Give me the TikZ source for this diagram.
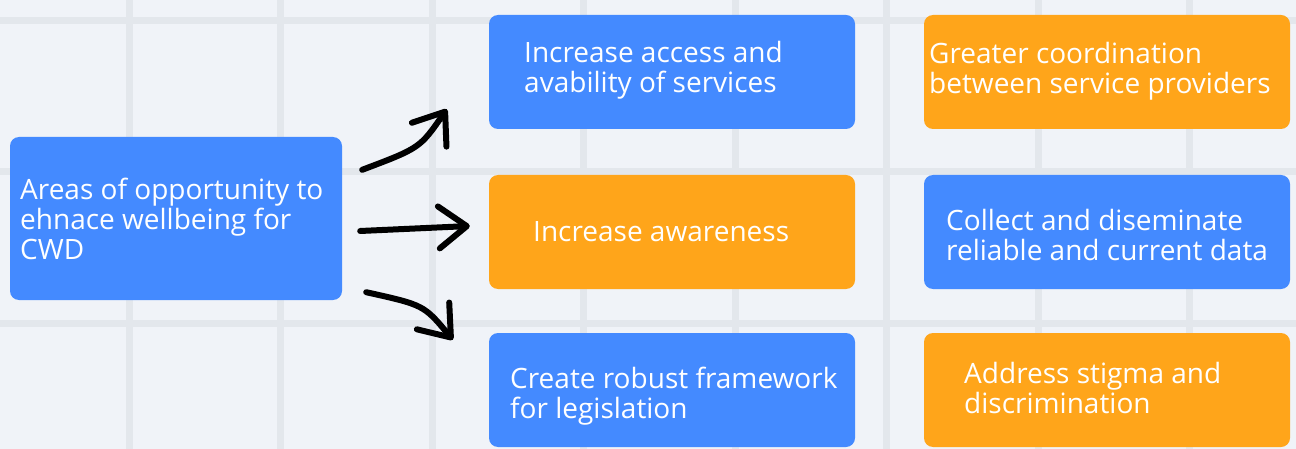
\documentclass[tikz,border=0pt]{standalone}
\usepackage{fontspec}
\setmainfont{Open Sans}
\usetikzlibrary{arrows.meta,positioning}

\definecolor{bgcol}{RGB}{240,243,248}
\definecolor{gridcol}{RGB}{227,231,236}
\definecolor{cardblue}{RGB}{68,138,255}
\definecolor{cardorange}{RGB}{255,165,26}

\tikzset{
  card/.style={rounded corners=9pt, inner sep=0pt, minimum width=366pt, minimum height=114pt},
  bluecard/.style={card, fill=cardblue},
  orangecard/.style={card, fill=cardorange},
  cardtext/.style={text=white, align=left, inner sep=0pt, anchor=base west,
    font=\fontsize{28}{30}\selectfont},
  sketch/.style={line width=6pt, line cap=round, line join=round,
    -{Straight Barb[length=28pt, width=42pt, round]}},
}

\begin{document}
\begin{tikzpicture}[x=1pt, y=-1pt]
  \useasboundingbox (0,0) rectangle (1296,449);
  \fill[bgcol] (0,0) rectangle (1296,449);

  % grid
  \foreach \i in {0,...,7}
    \draw[gridcol, line width=7pt] ({129+151.5*\i},0) -- ++(0,449);
  \foreach \y in {21,172,323}
    \draw[gridcol, line width=7pt] (0,\y) -- (1296,\y);

  % cards
  \node[bluecard, minimum width=332pt, minimum height=163pt] (src) at (176,218.5) {};
  \node[bluecard] (acc) at (672,72) {};
  \node[orangecard] (awr) at (672,232) {};
  \node[bluecard] (law) at (672,390) {};
  \node[orangecard] (crd) at (1107,72) {};
  \node[bluecard] (dat) at (1107,232) {};
  \node[orangecard] (stg) at (1107,390) {};

  % texts (anchored on the last baseline)
  \node[cardtext] (src-t) at (20,259) {Areas of opportunity to\\ehnace wellbeing for\\CWD};
  \node[cardtext] (acc-t) at (524,92.5) {Increase access and\\avability of services};
  \node[cardtext] (awr-t) at (533,241.5) {Increase awareness};
  \node[cardtext] (law-t) at (510,418) {Create robust framework\\for legislation};
  \node[cardtext] (crd-t) at (929,94) {Greater coordination\\between service providers};
  \node[cardtext] (dat-t) at (946,261) {Collect and diseminate\\reliable and current data};
  \node[cardtext] (stg-t) at (964,413) {Address stigma and\\discrimination};

  % arrows
  \draw[sketch] ([shift={(20,33)}]src.north east) .. controls (420,148) .. ([shift={(-42,-20)}]acc.south west);
  \draw[sketch] ([shift={(18,12.5)}]src.east) -- ([shift={(-19,-6)}]awr.west);
  \draw[sketch] ([shift={(24,-8)}]src.south east) .. controls (424,305) .. ([shift={(-36,7)}]law.north west);
\end{tikzpicture}
\end{document}
